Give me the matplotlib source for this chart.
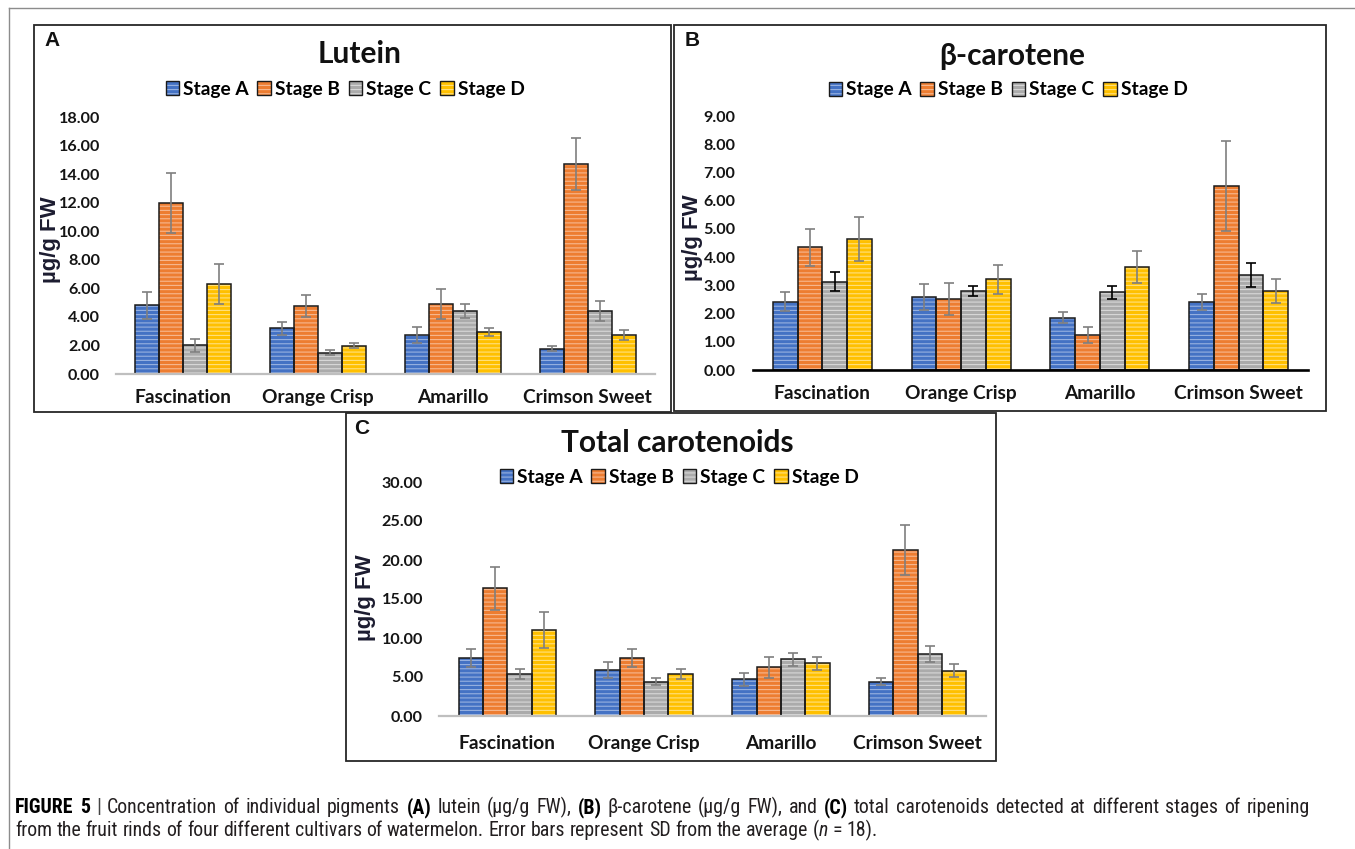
import matplotlib
matplotlib.use('Agg')
import matplotlib.pyplot as plt
import numpy as np
from matplotlib.patches import Rectangle, Patch
from matplotlib.lines import Line2D
from matplotlib.legend_handler import HandlerTuple
from matplotlib import font_manager

# ---------------- data ----------------
cultivars = ['Fascination', 'Orange Crisp', 'Amarillo', 'Crimson Sweet']
stages = ['Stage A', 'Stage B', 'Stage C', 'Stage D']

lutein_A = [4.80, 3.20, 2.72, 1.78]
lutein_B = [11.95, 4.78, 4.90, 14.70]
lutein_C = [2.00, 1.50, 4.40, 4.40]
lutein_D = [6.30, 1.97, 2.93, 2.73]
lutein_A_sd = [0.95, 0.47, 0.55, 0.19]
lutein_B_sd = [2.10, 0.78, 1.03, 1.80]
lutein_C_sd = [0.45, 0.20, 0.50, 0.70]
lutein_D_sd = [1.42, 0.18, 0.30, 0.37]

beta_A = [2.42, 2.57, 1.85, 2.42]
beta_B = [4.35, 2.52, 1.25, 6.52]
beta_C = [3.13, 2.80, 2.76, 3.37]
beta_D = [4.64, 3.22, 3.65, 2.80]
beta_A_sd = [0.34, 0.46, 0.19, 0.28]
beta_B_sd = [0.66, 0.57, 0.28, 1.59]
beta_C_sd = [0.33, 0.19, 0.23, 0.42]
beta_D_sd = [0.79, 0.51, 0.57, 0.42]

total_A = [7.45, 5.90, 4.70, 4.40]
total_B = [16.35, 7.45, 6.25, 21.30]
total_C = [5.40, 4.40, 7.27, 7.95]
total_D = [11.00, 5.40, 6.75, 5.80]
total_A_sd = [1.20, 1.03, 0.86, 0.47]
total_B_sd = [2.70, 1.20, 1.37, 3.25]
total_C_sd = [0.65, 0.47, 0.86, 1.07]
total_D_sd = [2.27, 0.64, 0.86, 0.85]

lutein_ticks = [0, 2, 4, 6, 8, 10, 12, 14, 16, 18]
beta_ticks = [0, 1, 2, 3, 4, 5, 6, 7, 8, 9]
total_ticks = [0, 5, 10, 15, 20, 25, 30]

# ---------------- style ----------------
face_cols = ['#4472C4', '#ED7D31', '#ABABAB', '#FFC000']
hatch_cols = ['#97B1E0', '#F7B88F', '#D8D8D8', '#FFE07E']
EDGE = '#1a1a1a'
plt.rcParams['hatch.linewidth'] = 0.8

ttf = font_manager.fontManager.ttflist
avail = {f.name for f in ttf}
CHART_FONT = 'Lato' if 'Lato' in avail else 'DejaVu Sans'
ARIAL = 'Liberation Sans'

# caption: prefer a condensed/narrow sans if one is installed
CAP_FONT, CAP_STRETCH = 'Liberation Sans', 'normal'
for pref in ['Liberation Sans Narrow', 'Roboto Condensed', 'Open Sans Condensed',
             'Noto Sans Condensed', 'Noto Sans Display Condensed']:
    if pref in avail:
        CAP_FONT = pref
        break
else:
    for fam in ['Liberation Sans', 'Roboto', 'Noto Sans', 'Open Sans']:
        cands = [f for f in ttf if f.name == fam and 'condensed' in str(f.stretch)
                 and f.style == 'normal']
        if cands:
            CAP_FONT, CAP_STRETCH = fam, 'condensed'
            break

W, H = 1355, 849
fig = plt.figure(figsize=(W / 100, H / 100), dpi=100)


def fx(x):
    return x / W


def fy(y):
    return 1 - y / H


# outer frame
fig.add_artist(Line2D([fx(9), fx(9)], [fy(8), fy(849)], color='#8c8c8c', lw=1))
fig.add_artist(Line2D([fx(9), fx(1355)], [fy(8), fy(8)], color='#8c8c8c', lw=1))


def panel(box, label, label_xy, title, title_xy, legend_xy, ax_px, ylim, yticks,
          means, sds, ylabel_xy, ytick_pad, xtick_pad, axis_color, axis_lw, err_cols):
    x0, y0, x1, y1 = box
    fig.add_artist(Rectangle((fx(x0), fy(y1)), (x1 - x0) / W, (y1 - y0) / H,
                             transform=fig.transFigure, fill=False,
                             edgecolor='#262626', lw=1.3, zorder=5))
    fig.text(fx(label_xy[0]), fy(label_xy[1]), label, family=ARIAL, fontweight='bold',
             fontsize=15, ha='center', va='center', color='#111111')
    fig.text(fx(title_xy[0]), fy(title_xy[1]), title, family=CHART_FONT, fontweight='bold',
             fontsize=21.5, ha='center', va='center', color='#111111')
    fig.text(fx(ylabel_xy[0]), fy(ylabel_xy[1]), 'µg/g FW', family=ARIAL, fontweight='bold',
             fontsize=16, ha='center', va='center', rotation=90, color='#1c1c30')

    l, t, r, b = ax_px
    ax = fig.add_axes([fx(l), fy(b), (r - l) / W, (b - t) / H])
    ax.set_facecolor('none')
    x = np.arange(len(cultivars))
    w = 0.178
    for i in range(4):
        xi = x + (i - 1.5) * w
        ax.bar(xi, means[i], w, color=face_cols[i], edgecolor=hatch_cols[i], linewidth=0,
               hatch='----', zorder=2)
        ax.bar(xi, means[i], w, fill=False, edgecolor=EDGE, linewidth=1.1, zorder=3)
        ax.errorbar(xi, means[i], yerr=sds[i], fmt='none', ecolor=err_cols[i],
                    elinewidth=1.2, capsize=3.3, capthick=1.2, zorder=4)
    ax.set_xlim(-0.5, len(cultivars) - 0.5)
    ax.set_ylim(*ylim)
    ax.set_yticks(yticks)
    ax.set_yticklabels([f'{v:.2f}' for v in yticks])
    ax.set_xticks(x)
    ax.set_xticklabels(cultivars)
    for s in ['top', 'right', 'left']:
        ax.spines[s].set_visible(False)
    ax.spines['bottom'].set_color(axis_color)
    ax.spines['bottom'].set_linewidth(axis_lw)
    ax.spines['bottom'].set_zorder(5)
    ax.tick_params(axis='y', length=0, pad=ytick_pad)
    ax.tick_params(axis='x', length=0, pad=xtick_pad)
    for lab in ax.get_yticklabels():
        lab.set_fontfamily(CHART_FONT)
        lab.set_fontweight('bold')
        lab.set_fontsize(11.6)
        lab.set_color('#141414')
    for lab in ax.get_xticklabels():
        lab.set_fontfamily(CHART_FONT)
        lab.set_fontweight('bold')
        lab.set_fontsize(13.8)
        lab.set_color('#141414')

    handles = [(Patch(facecolor=face_cols[i], edgecolor=hatch_cols[i], lw=0, hatch='----'),
                Patch(fill=False, edgecolor=EDGE, lw=1.0)) for i in range(4)]
    fig.legend(handles, stages, loc='center', bbox_to_anchor=(fx(legend_xy[0]), fy(legend_xy[1])),
               ncol=4, frameon=False, handler_map={tuple: HandlerTuple(ndivide=1, pad=0)},
               prop={'family': CHART_FONT, 'weight': 'bold', 'size': 13.8},
               handlelength=0.72, handleheight=0.72, handletextpad=0.2, columnspacing=0.45,
               borderpad=0, borderaxespad=0)
    return ax


gray_err = ['#7f7f7f'] * 4

panel((34, 25, 671, 412), 'A', (52, 40), 'Lutein', (360, 54), (345, 89),
      (116, 117, 655, 374), (0, 18), lutein_ticks,
      [lutein_A, lutein_B, lutein_C, lutein_D],
      [lutein_A_sd, lutein_B_sd, lutein_C_sd, lutein_D_sd],
      (51, 240), 11.5, 10.5, '#BFBFBF', 1.6, gray_err)

panel((674, 25, 1326, 411), 'B', (692, 41), 'β-carotene', (1012, 56), (1008, 90),
      (753, 116, 1308, 370), (0, 9), beta_ticks,
      [beta_A, beta_B, beta_C, beta_D],
      [beta_A_sd, beta_B_sd, beta_C_sd, beta_D_sd],
      (693, 238), 12.6, 10.5, '#000000', 1.9, ['#7f7f7f', '#7f7f7f', '#000000', '#7f7f7f'])

panel((346, 413, 996, 761), 'C', (362, 428), 'Total carotenoids', (677, 443), (679, 477),
      (439, 482, 986, 716), (0, 30), total_ticks,
      [total_A, total_B, total_C, total_D],
      [total_A_sd, total_B_sd, total_C_sd, total_D_sd],
      (365, 598), 11.5, 14.0, '#BFBFBF', 1.6, gray_err)

# ---------------- caption ----------------
renderer = fig.canvas.get_renderer()
line1 = [('FIGURE 5', 'b'), (' | ', 'n'), ('Concentration of individual pigments ', 'n'),
         ('(A)', 'b'), (' lutein (µg/g FW), ', 'n'), ('(B)', 'b'),
         (' β-carotene (µg/g FW), and ', 'n'), ('(C)', 'b'),
         (' total carotenoids detected at different stages of ripening', 'n')]
line2 = [('from the fruit rinds of four different cultivars of watermelon. Error bars represent SD from the average (', 'n'),
         ('n', 'i'), (' = 18).', 'n')]


def cap_kw(size, style):
    kw = dict(family=CAP_FONT, fontsize=size, fontstretch=CAP_STRETCH)
    if style == 'b':
        kw['fontweight'] = 'bold'
    if style == 'i':
        kw['fontstyle'] = 'italic'
    return kw


def text_width(s, size, style):
    t = fig.text(0, 0, s, **cap_kw(size, style))
    wdt = t.get_window_extent(renderer).width
    t.remove()
    return wdt


def split_words(runs):
    """Break runs into (word, style) tokens separated by single spaces."""
    tokens = []  # list of (text, style, space_before)
    for s, st in runs:
        parts = s.split(' ')
        for j, p in enumerate(parts):
            if p == '':
                if j > 0 or True:
                    tokens.append(('', st, True))
                continue
            tokens.append((p, st, j > 0))
    # merge: build list of words with flag whether a space precedes them
    out = []
    pending_space = False
    for p, st, sp_before in tokens:
        if p == '':
            pending_space = True
            continue
        out.append((p, st, pending_space or sp_before))
        pending_space = False
    return out


def layout(runs, size):
    words = split_words(runs)
    sp = text_width('a a', size, 'n') - text_width('aa', size, 'n')
    widths = [text_width(p, size, st) for p, st, _ in words]
    nsp = sum(1 for i, (_, _, b) in enumerate(words) if b and i > 0)
    natural = sum(widths) + nsp * sp
    return words, widths, sp, nsp, natural


def draw_line(runs, x0, ybase, size, target_width=None):
    words, widths, sp, nsp, natural = layout(runs, size)
    gap = sp
    if target_width is not None and nsp > 0:
        gap = sp + (target_width - natural) / nsp
    xx = x0
    for i, ((p, st, b), wd) in enumerate(zip(words, widths)):
        if b and i > 0:
            xx += gap
        kw = cap_kw(size, st)
        kw['color'] = '#000000' if st == 'b' else '#231F20'
        if p == '|':
            kw['color'] = '#444444'
        fig.text(fx(xx), fy(ybase), p, ha='left', va='baseline', **kw)
        xx += wd


base = 10.0
nat2 = layout(line2, base)[4]
cap_size = base * (872 - 15) / nat2
draw_line(line1, 15, 813, cap_size, target_width=1310 - 15)
draw_line(line2, 15, 836, cap_size)

fig.savefig('out.png', dpi=100)
